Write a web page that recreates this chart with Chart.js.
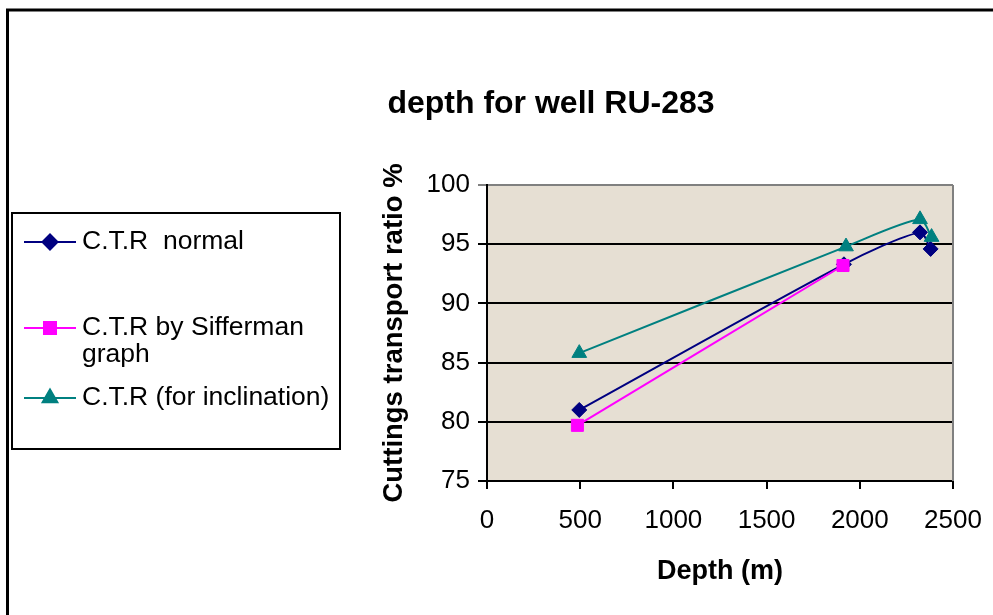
<!DOCTYPE html>
<html>
<head>
<meta charset="utf-8">
<script src="https://cdn.jsdelivr.net/npm/chart.js@4"></script>
<style>
    body { margin: 0; background: #fff; }
    #wrap { width: 993px; height: 615px; position: relative; }
</style>
</head>
<body>
<div id="wrap"><canvas id="ctr-chart"></canvas></div>
<script>
const FONT = "'Liberation Sans', Arial, sans-serif";

const NORMAL_DEPTH = [495, 1915, 2323, 2380];
const NORMAL_CTR = [81.0, 93.3, 96.0, 94.6];
const SIFFERMAN_DEPTH = [485, 1910];
const SIFFERMAN_CTR = [79.7, 93.2];
const INCL_DEPTH = [495, 1926, 2323, 2385];
const INCL_CTR = [85.8, 94.8, 97.1, 95.6];

const LABELS = [['C.T.R  normal'], ['C.T.R by Sifferman', 'graph'], ['C.T.R (for inclination)']];
const COLORS = ['#000080', '#ff00ff', '#008080'];
const MARKERS = ['rectRot', 'rect', 'triangle'];

function toPoints(xs, ys) {
    return xs.map((x, i) => ({x: x, y: ys[i]}));
}

// later series sit on top, as in the spreadsheet
function initDataset(i, points, radius) {
    return {
        label: LABELS[i].join(' '),
        data: points,
        order: 2 - i,
        borderColor: COLORS[i],
        backgroundColor: COLORS[i],
        pointStyle: MARKERS[i],
        pointRadius: radius,
        pointBorderWidth: 1,
        borderWidth: 2,
        tension: 0.25
    };
}

// beige plot area, frame round the whole chart and the boxed legend
const decorPlugin = {
    id: 'decor',
    beforeDraw(chart) {
        const {ctx, chartArea: a} = chart;
        ctx.save();
        ctx.fillStyle = '#e6dfd3';
        ctx.fillRect(a.left, a.top, a.right - a.left, a.bottom - a.top);
        ctx.restore();
    },
    afterDraw(chart) {
        const {ctx, chartArea: a} = chart;
        ctx.save();
        ctx.strokeStyle = '#808080';
        ctx.lineWidth = 2;
        ctx.beginPath();
        ctx.moveTo(a.right, a.top);
        ctx.lineTo(a.right, a.bottom);
        ctx.stroke();

        ctx.strokeStyle = '#000';
        ctx.lineWidth = 3;
        ctx.strokeRect(7.5, 10, 1000, 700);

        ctx.fillStyle = '#fff';
        ctx.fillRect(12, 213, 328, 236);
        ctx.lineWidth = 2;
        ctx.strokeRect(12, 213, 328, 236);

        ctx.textBaseline = 'middle';
        ctx.textAlign = 'left';
        ctx.font = '26.5px ' + FONT;
        const rows = [242, 328, 398];
        chart.data.datasets.forEach((ds, i) => {
            const y = rows[i];
            ctx.strokeStyle = ds.borderColor;
            ctx.lineWidth = 2;
            ctx.beginPath();
            ctx.moveTo(24, y);
            ctx.lineTo(76, y);
            ctx.stroke();
            Chart.helpers.drawPoint(ctx, {
                pointStyle: ds.pointStyle, radius: ds.pointRadius, rotation: 0,
                borderWidth: 1
            }, 50, y);
            ctx.fillStyle = ds.backgroundColor;
            ctx.fill();
            ctx.fillStyle = '#000';
            LABELS[i].forEach((line, k) => ctx.fillText(line, 82, y + k * 27));
        });

        ctx.font = 'bold 32px ' + FONT;
        ctx.textAlign = 'center';
        ctx.fillText('depth for well RU-283', 551, 104);
        ctx.restore();
    }
};

new Chart(document.getElementById('ctr-chart'), {
    type: 'line',
    data: {
        datasets: [
            initDataset(0, toPoints(NORMAL_DEPTH, NORMAL_CTR), 7.5),
            initDataset(1, toPoints(SIFFERMAN_DEPTH, SIFFERMAN_CTR), 8.5),
            initDataset(2, toPoints(INCL_DEPTH, INCL_CTR), 8.5)
        ]
    },
    options: {
        responsive: true,
        maintainAspectRatio: false,
        animation: false,
        layout: {padding: {left: 378, top: 185, right: 40, bottom: 0}},
        plugins: {
            legend: {display: false},
            tooltip: {enabled: false}
        },
        scales: {
            x: {
                type: 'linear',
                min: 0,
                max: 2500,
                afterFit(scale) {
                    scale.height = 134;
                    scale.paddingLeft = 0;
                    scale.paddingRight = 0;
                },
                ticks: {
                    stepSize: 500, color: '#000', padding: 16,
                    font: {family: FONT, size: 26},
                    callback: v => String(v)
                },
                grid: {drawOnChartArea: false, drawTicks: true, tickLength: 8, color: '#000', lineWidth: 2},
                border: {color: '#000', width: 2},
                title: {
                    display: true, text: 'Depth (m)', color: '#000',
                    font: {family: FONT, size: 27, weight: 'bold'},
                    padding: {top: 0, bottom: 27}
                }
            },
            y: {
                min: 75,
                max: 100,
                afterFit(scale) { scale.width = 109; },
                ticks: {stepSize: 5, color: '#000', padding: 8, font: {family: FONT, size: 26}},
                grid: {
                    color: ctx => ctx.tick && ctx.tick.value === 100 ? '#808080' : '#000',
                    lineWidth: 2, tickLength: 9
                },
                border: {color: '#000', width: 2},
                title: {
                    display: true, text: 'Cuttings transport ratio %', color: '#000',
                    font: {family: FONT, size: 27.5, weight: 'bold'},
                    padding: {top: 0, bottom: 0}
                }
            }
        }
    },
    plugins: [decorPlugin]
});
</script>
</body>
</html>
